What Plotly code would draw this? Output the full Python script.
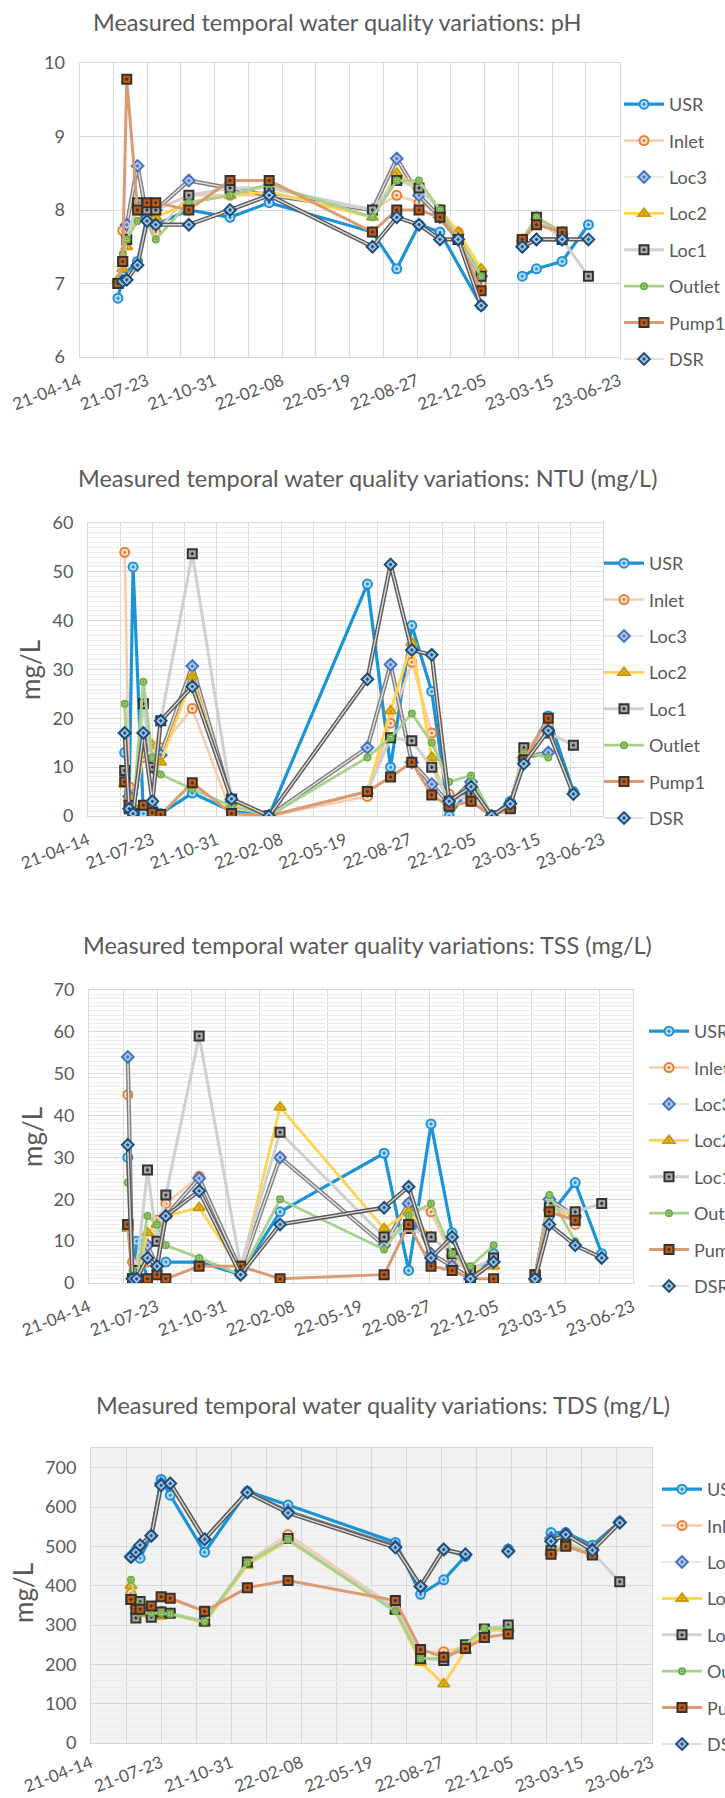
import math
import pandas as pd
import plotly.graph_objects as go

W, H = 725, 1798
FONT = "Lato, 'Open Sans', sans-serif"
TEXT = "#595959"
GRID = "#D9D9D9"
MINOR_GRID = "#ECECEC"

# Sampling campaigns (shared by all sites)
sample_dates = [
    "2021-06-10", "2021-06-17", "2021-06-23", "2021-07-09", "2021-07-23",
    "2021-08-05", "2021-09-23", "2021-11-23", "2022-01-20", "2022-06-22",
    "2022-07-28", "2022-08-30", "2022-09-30", "2022-10-27", "2022-11-30",
    "2023-01-01", "2023-01-30", "2023-02-20", "2023-03-30", "2023-05-08",
]

# None = site not sampled that day (line runs through);
# GAP = empty cell, the line is interrupted there.
GAP = math.nan

sites = ["USR", "Inlet", "Loc3", "Loc2", "Loc1", "Outlet", "Pump1", "DSR"]

ph = {
    "USR":    [6.8, 7.1, None, 7.3, 7.9, 7.8, 8.0, 7.9, 8.1, 7.7, 7.2, 7.8, 7.7, None, 6.7, GAP, 7.1, 7.2, 7.3, 7.8],
    "Inlet":  [None, 7.72, None, 7.88, 7.95, 7.7, 8.2, 8.2, 8.2, 8.0, 8.2, 8.1, 7.95, 7.7, 7.0, GAP, 7.6, 7.8, 7.7, None],
    "Loc3":   [None, None, 7.8, 8.6, 7.9, 8.0, 8.4, 8.3, 8.2, 8.0, 8.7, 8.2, 7.9, 7.6, 7.1, GAP, 7.5, 7.6, 7.6, None],
    "Loc2":   [7.05, 7.2, 7.5, 8.1, 8.05, 7.9, 8.1, 8.2, 8.25, 7.9, 8.5, 8.3, 8.0, 7.7, 7.2, GAP, 7.6, 7.9, 7.7, None],
    "Loc1":   [7.0, 7.3, 7.6, 8.1, 8.0, 8.0, 8.2, 8.3, 8.3, 8.0, 8.4, 8.3, 8.0, 7.6, 7.1, GAP, 7.6, 7.9, 7.6, 7.1],
    "Outlet": [7.02, 7.4, 7.6, 7.85, 7.82, 7.6, 8.1, 8.2, 8.35, 7.9, 8.4, 8.4, 8.0, 7.6, 7.1, GAP, 7.6, 7.9, 7.7, None],
    "Pump1":  [7.0, 7.3, 9.78, 8.0, 8.1, 8.1, 8.0, 8.4, 8.4, 7.7, 8.0, 8.0, 7.9, 7.6, 6.9, GAP, 7.6, 7.8, 7.7, None],
    "DSR":    [None, 7.03, 7.05, 7.25, 7.85, 7.8, 7.8, 8.0, 8.2, 7.5, 7.9, 7.8, 7.6, 7.6, 6.7, GAP, 7.5, 7.6, 7.6, 7.6],
}

ntu = {
    "USR":    [13, 5, 51, 0.5, 3, 0.5, 4.7, 1.0, 0, 47.5, 10, 39, 25.5, 0, 6, 0, 3, 11, 20.5, 5],
    "Inlet":  [54, 6, 1.5, 12, 12, 14, 22, 0.5, 0, 4, 19, 31.5, 17, 4.5, 3, 0, 2, 13, 19, None],
    "Loc3":   [17, 4, 1, 17, 10, 12.5, 30.7, 3, 0, 14, 31, 11, 6.5, 2.5, 7, 0, 2.5, 12, 13, None],
    "Loc2":   [6.5, 3.5, 2, 14, 14.5, 11, 28.5, 2.5, 0, 5, 21.5, 35.5, 12, 2, 3, 0, 2, 12, 17, None],
    "Loc1":   [9.3, 1.5, 0.5, 23, 10, 19.5, 53.7, 3.5, 0, 5, 16, 15.4, 10, 3, 4.5, 0, 2, 14, 17, 14.5],
    "Outlet": [23, 2, 1, 27.5, 12, 8.5, 5.5, 2, 0, 12, 16, 21, 15, 7, 8.3, 0, 2, 13, 12, None],
    "Pump1":  [7, 2.2, 0.5, 2.2, 0.7, 0.3, 6.8, 0.5, 0, 5, 8, 11, 4.3, 2, 3, 0, 1.5, 11.5, 20, None],
    "DSR":    [17, 1.5, 0.5, 17, 3, 19.5, 26.5, 3.5, 0, 28, 51.5, 34, 33, 3, 6, 0, 2.5, 10.7, 17.5, 4.5],
}

tss = {
    "USR":    [30, 1, 10, 1, 3, 5, 5, 2, 17, 31, 3, 38, 12, 0, 7, GAP, 0, 16, 24, 7],
    "Inlet":  [45, 5, 1, 5, 15, 19, 25.5, 3, 30, 9, 19, 17, 6, 2, 5, GAP, 1, 19, 14, None],
    "Loc3":   [54, 1, 1, 9, 4, 16, 25, 3, 30, 9, 19, 7, 4, 1, 5, GAP, 1, 20, 16, None],
    "Loc2":   [13, 2, 1, 12, 14, 16, 18, 3, 42, 13, 17, 11, 7, 3, 4, GAP, 1, 18, 16, None],
    "Loc1":   [14, 1, 3, 27, 10, 21, 59, 4, 36, 11, 13, 11, 7, 3, 6, GAP, 2, 18, 17, 19],
    "Outlet": [24, 3, 1, 16, 14, 9, 6, 2, 20, 8, 16, 19, 7, 4, 9, GAP, 1, 21, 10, None],
    "Pump1":  [14, 1, 1, 1, 2, 1, 4, 4, 1, 2, 14, 4, 3, 1, 1, GAP, 2, 17, 15, None],
    "DSR":    [33, 1, 1, 6, 4, 16, 22, 2, 14, 18, 23, 6, 11, 1, 5, GAP, 1, 14, 9, 6],
}

tds = {
    "USR":    [473, 490, 470, 527, 670, 630, 485, 640, 605, 510, 378, 415, 475, GAP, 493, GAP, 535, 535, 503, 563],
    "Inlet":  [380, 360, 345, 330, 335, 330, 308, 462, 530, 345, 232, 232, 245, 288, 285, GAP, 490, 510, 485, None],
    "Loc3":   [475, 485, 500, 527, 660, 660, 518, 638, 588, 500, 398, 492, 478, GAP, 490, GAP, 520, 532, 493, 562],
    "Loc2":   [400, 350, 330, 325, 322, 328, 305, 452, 515, 335, 205, 150, 235, 285, 290, GAP, 485, 505, 480, None],
    "Loc1":   [365, 318, 360, 320, 333, 330, 310, 460, 520, 340, 215, 210, 250, 290, 300, GAP, 490, 505, 485, 410],
    "Outlet": [415, 355, 330, 330, 330, 328, 308, 458, 517, 335, 215, 215, 250, 292, 290, GAP, 485, 505, 480, None],
    "Pump1":  [365, 340, 340, 348, 372, 368, 335, 395, 413, 362, 238, 218, 240, 268, 277, GAP, 480, 500, 478, None],
    "DSR":    [473, 485, 503, 527, 655, 660, 518, 637, 585, 497, 398, 492, 480, GAP, 487, GAP, 513, 530, 490, 560],
}

x_start, x_end = "2021-04-14", "2023-06-23"
major_ticks = pd.date_range(x_start, x_end, freq="100D")
minor_ticks = pd.date_range(x_start, x_end, freq="50D")
tick_text = [d.strftime("%y-%m-%d") for d in major_ticks]

# Line / marker look of each site
STYLE = {
    "USR":    dict(line="#1B93D8", lw=3.2, sym="circle-dot", ms=9, fill="#BDD7EE", edge="#1B93D8"),
    "Inlet":  dict(line="#F8CBAD", lw=2.5, sym="circle-dot", ms=9, fill="#FBE5D6", edge="#ED7D31"),
    "Loc3":   dict(line="#E3E3E3", lw=1.4, sym="diamond-dot", ms=9, fill="#B4C7E7", edge="#4472C4", rim="#7F7F7F"),
    "Loc2":   dict(line="#FFD34F", lw=2.8, sym="triangle-up-dot", ms=10, fill="#F2C12E", edge="#C99A06"),
    "Loc1":   dict(line="#D0D0D0", lw=3.0, sym="square-dot", ms=9, fill="#A6A6A6", edge="#333333"),
    "Outlet": dict(line="#A9D18E", lw=2.8, sym="circle-dot", ms=6, fill="#E2F0D9", edge="#70AD47"),
    "Pump1":  dict(line="#DB9B72", lw=3.0, sym="square-dot", ms=9, fill="#C55A11", edge="#333333"),
    "DSR":    dict(line="#D9D9D9", lw=1.4, sym="diamond-dot", ms=9, fill="#9DC3E6", edge="#1F4E79", rim="#595959"),
}


def px_x(p):
    return p / W


def px_y(p):
    return 1 - p / H


# per panel: data, y range, major/minor step, title, frame (px), title pos, legend pos,
# y-title pos, gap between x axis and its labels
panels = [
    dict(data=ph, yr=[6, 10], dt=1, mdt=None, title="Measured temporal water quality variations: pH",
         box=(79.5, 619.5, 63, 357), tpos=(337, 22), leg=(619, 86), ytitle=None, bg=None, xgap=7),
    dict(data=ntu, yr=[0, 60], dt=10, mdt=1, title="Measured temporal water quality variations: NTU (mg/L)",
         box=(88, 603, 523, 816), tpos=(367, 478), leg=(599, 545), ytitle=(30, 670), bg=None, xgap=7),
    dict(data=tss, yr=[0, 70], dt=10, mdt=1, title="Measured temporal water quality variations: TSS (mg/L)",
         box=(89, 633, 990, 1283), tpos=(367, 945), leg=(644, 1013), ytitle=(32, 1137), bg=None, xgap=7),
    dict(data=tds, yr=[0, 750], dt=100, mdt=20, title="Measured temporal water quality variations: TDS (mg/L)",
         box=(91, 652, 1448, 1743), tpos=(383, 1405), leg=(657, 1471), ytitle=(23, 1593), bg="#F2F2F2", xgap=3),
]

fig = go.Figure()
layout = dict(
    width=W, height=H, margin=dict(l=0, r=0, t=0, b=0, autoexpand=False),
    paper_bgcolor="white", plot_bgcolor="rgba(0,0,0,0)",
    font=dict(family=FONT, color=TEXT), annotations=[], shapes=[],
)


def series_xy(vals):
    xs, ys = [], []
    for d, v in zip(sample_dates, vals):
        if v is None:
            continue
        xs.append(d)
        ys.append(None if (isinstance(v, float) and math.isnan(v)) else v)
    return xs, ys


for i, p in enumerate(panels, start=1):
    sfx = "" if i == 1 else str(i)
    xa, ya = f"x{sfx}", f"y{sfx}"
    leg = "legend" if i == 1 else f"legend{i}"
    x0, x1, y0, y1 = p["box"]

    for s in sites:
        st = STYLE[s]
        xs, ys = series_xy(p["data"][s])
        grp = f"{i}-{s}"
        if "rim" in st:
            fig.add_trace(go.Scatter(
                x=xs, y=ys, mode="lines", xaxis=xa, yaxis=ya, legend=leg,
                line=dict(color=st["rim"], width=4.2), connectgaps=False,
                showlegend=False, hoverinfo="skip", legendgroup=grp))
        fig.add_trace(go.Scatter(
            x=xs, y=ys, mode="lines+markers", name=s, xaxis=xa, yaxis=ya, legend=leg,
            legendgroup=grp, connectgaps=False,
            line=dict(color=st["line"], width=st["lw"]),
            marker=dict(symbol=st["sym"], size=st["ms"], color=st["fill"],
                        line=dict(color=st["edge"], width=2))))

    layout[f"xaxis{sfx}"] = dict(
        type="date", range=[x_start, x_end], domain=[px_x(x0), px_x(x1)], anchor=ya,
        tickmode="array", tickvals=list(major_ticks), ticktext=tick_text, tickangle=-21,
        tickfont=dict(size=17, family=FONT, color=TEXT), ticks="", ticklabelstandoff=p["xgap"],
        showgrid=True, gridcolor=GRID, gridwidth=1,
        minor=dict(tickvals=list(minor_ticks), showgrid=True, gridcolor=GRID, gridwidth=1),
        showline=True, linecolor=GRID, linewidth=1, mirror=True, zeroline=False,
    )
    yax = dict(
        range=p["yr"], dtick=p["dt"], tick0=0, domain=[px_y(y1), px_y(y0)], anchor=xa,
        tickfont=dict(size=18, family=FONT, color=TEXT), ticks="", ticklabelstandoff=10,
        showgrid=True, gridcolor=GRID, gridwidth=1.3,
        showline=True, linecolor=GRID, linewidth=1, mirror=True, zeroline=False,
    )
    if p["mdt"]:
        yax["minor"] = dict(dtick=p["mdt"], showgrid=True, gridcolor=MINOR_GRID, gridwidth=1)
    layout[f"yaxis{sfx}"] = yax

    layout[leg] = dict(
        x=px_x(p["leg"][0]), y=px_y(p["leg"][1]), xanchor="left", yanchor="top",
        font=dict(size=18, family=FONT, color=TEXT), itemwidth=40, tracegroupgap=10,
        bgcolor="rgba(0,0,0,0)", traceorder="grouped",
    )

    layout["annotations"].append(dict(
        text=p["title"], x=px_x(p["tpos"][0]), y=px_y(p["tpos"][1]), xref="paper", yref="paper",
        showarrow=False, xanchor="center", yanchor="middle",
        font=dict(size=23.5, family=FONT, color=TEXT)))
    if p["ytitle"]:
        layout["annotations"].append(dict(
            text="mg/L", x=px_x(p["ytitle"][0]), y=px_y(p["ytitle"][1]), xref="paper", yref="paper",
            showarrow=False, textangle=-90, xanchor="center", yanchor="middle",
            font=dict(size=26, family=FONT, color=TEXT)))
    if p["bg"]:
        layout["shapes"].append(dict(
            type="rect", xref=f"{xa} domain", yref=f"{ya} domain", x0=0, x1=1, y0=0, y1=1,
            fillcolor=p["bg"], line=dict(width=0), layer="below"))

fig.update_layout(**layout)
fig.write_html("out.html")
